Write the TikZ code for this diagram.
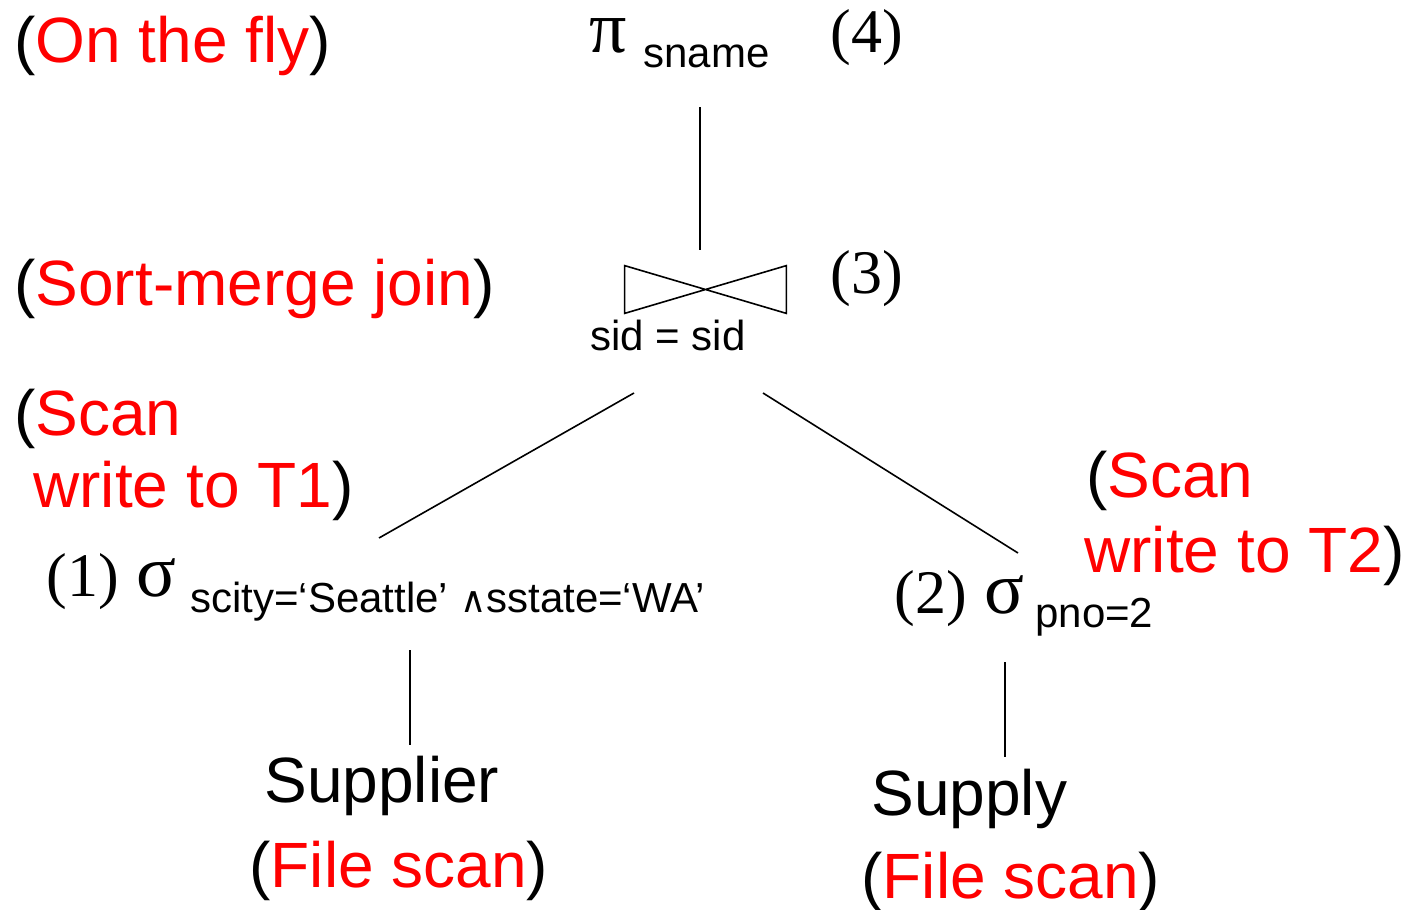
\documentclass[tikz,border=0pt]{standalone}
\usepackage{fontspec}
\setmainfont{Liberation Sans}
\newfontfamily\serifrm{Liberation Serif}
\newfontfamily\symfont{DejaVu Sans}

\tikzset{
  lbl/.style={inner sep=0, anchor=base west, font=\fontsize{32}{38}\selectfont},
  sub/.style={inner sep=0, anchor=base west, font=\fontsize{21}{25}\selectfont},
  op/.style={inner sep=0, anchor=base west, font=\serifrm\fontsize{31}{37}\selectfont},
  greek/.style={inner sep=0, anchor=base west, text height=0.5em, text depth=0pt,
                font=\serifrm\fontsize{37}{42}\selectfont},
  edge/.style={line width=0.8pt},
  bowtie/.style={inner sep=0, minimum width=80.5pt, minimum height=23.5pt},
}
\newcommand{\rd}[1]{\textcolor{red}{#1}}
\newcommand{\andsym}{{\symfont\fontsize{18}{18}\selectfont ∧}}

\begin{document}
\begin{tikzpicture}[x=0.5pt,y=-0.5pt]
\useasboundingbox (0,0) rectangle (1405,910);

% annotations on the left
\node[lbl] (fly)  at (14,62)  {(\rd{On the fly})};
\node[lbl] (smj)  at (14,305) {(\rd{Sort-merge join})};
\node[lbl] (scanA) at (14,435) {(\rd{Scan}};
\node[lbl] (scanB) at (33,507) {\rd{write to T1})};

% annotation on the right
\node[lbl] (scanC) at (1086,497) {(\rd{Scan}};
\node[lbl] (scanD) at (1084,572) {\rd{write to T2})};

% projection (4)
\node[greek] (pi)  at (589,53) {π};
\node[sub] (sname) at (643,68) {sname};
\node[op]  (n4)    at (830,53) {(4)};

% join (3)
\node[bowtie] (join) at (705.5,289.5) {};
\draw[edge] (join.north west) -- (join.south east) -- (join.north east)
            -- (join.south west) -- cycle;
\node[sub] (cond) at (590,350) {sid = sid};
\node[op]  (n3)   at (830,293) {(3)};

% selections (1) and (2)
\node[op]    (n1)    at (46,596)  {(1)};
\node[greek] (sig1)  at (136,596) {σ};
\node[sub]   (pred1) at (190,612) {scity=‘Seattle’ \andsym sstate=‘WA’};
\node[op]    (n2)    at (894,613) {(2)};
\node[greek] (sig2)  at (984,613) {σ};
\node[sub]   (pred2) at (1035,627) {pno=2};

% base relations
\node[lbl] (supplier) at (264,802) {Supplier};
\node[lbl] (fs1)      at (249,887) {(\rd{File scan})};
\node[lbl] (supply)   at (871,815) {Supply};
\node[lbl] (fs2)      at (861,898) {(\rd{File scan})};

% connector end points
\coordinate (pTop) at (700,107);
\coordinate (jTop) at (700,250);
\coordinate (jL)   at (634,393);
\coordinate (s1T)  at (379,538);
\coordinate (jR)   at (763,393);
\coordinate (s2T)  at (1018,553);
\coordinate (s1B)  at (410,650);
\coordinate (supT) at (410,745);
\coordinate (s2B)  at (1005,662);
\coordinate (sypT) at (1005,757);

\draw[edge] (pTop) -- (jTop);
\draw[edge] (jL) -- (s1T);
\draw[edge] (jR) -- (s2T);
\draw[edge] (s1B) -- (supT);
\draw[edge] (s2B) -- (sypT);
\end{tikzpicture}
\end{document}
